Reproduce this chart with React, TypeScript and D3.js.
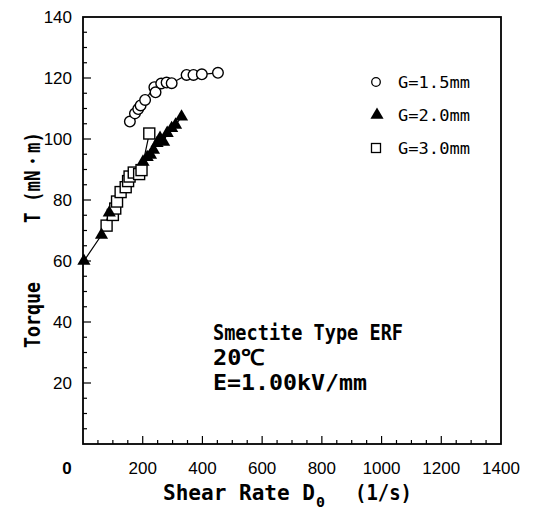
import React, { useEffect, useRef } from 'react';
import * as d3 from 'd3';

// G=1.5mm (open circles)
const gap15: number[][] = [
  [157, 105.7], [174, 108.4], [185, 109.8], [193, 111], [208, 112.8], [239, 117],
  [243, 115.3], [262, 118.2], [280, 118.5], [297, 118.3], [347, 121], [370, 121],
  [398, 121.2], [452, 121.7],
];
// G=2.0mm (filled triangles)
const gap20: number[][] = [
  [3, 60], [62, 68.5], [88, 75.8], [201, 92.5], [215, 94], [226, 94.8], [236, 96.4],
  [248, 98.6], [258, 100.3], [270, 99], [282, 101.9], [297, 103.5], [310, 104.6], [330, 107.3],
];
// G=3.0mm (open squares)
const gap30: number[][] = [
  [79, 71.6], [100, 75.1], [108, 77.2], [114, 79.5], [126, 82.6], [143, 84.2],
  [151, 86.2], [156, 87.7], [170, 89], [188, 88.5], [196, 89.8], [222, 101.8],
];

const xTicks = [200, 400, 600, 800, 1000, 1200, 1400];
const yTicks = [20, 40, 60, 80, 100, 120, 140];
const legendLabels = ['G=1.5mm', 'G=2.0mm', 'G=3.0mm'];
const noteLines = ['Smectite Type ERF', '20℃', 'E=1.00kV/mm'];

const W = 534;
const H = 510;
const margin = { left: 83, top: 17, right: 33, bottom: 66 };
const mono = '"DejaVu Sans Mono", monospace';
const sans = '"Liberation Sans Narrow", "Liberation Sans", Arial, sans-serif';

const App = () => {
  const ref = useRef<SVGSVGElement>(null);

  useEffect(() => {
    const svg = d3.select(ref.current);
    svg.selectAll('*').remove();

    const x = d3.scaleLinear().domain([0, 1400]).range([margin.left, W - margin.right]);
    const y = d3.scaleLinear().domain([0, 140]).range([H - margin.bottom, margin.top]);
    const x0 = x(0), x1 = x(1400), y0 = y(0), y1 = y(140);

    // frame
    svg.append('rect')
      .attr('x', x0).attr('y', y1)
      .attr('width', x1 - x0).attr('height', y0 - y1)
      .attr('fill', 'none').attr('stroke', '#000').attr('stroke-width', 1.8);

    // inward ticks
    const g = svg.append('g').attr('stroke', '#000').attr('stroke-width', 1.2);
    d3.range(50, 1400, 50).forEach((v) => {
      const len = v % 200 === 0 ? 8 : 4;
      g.append('line').attr('x1', x(v)).attr('x2', x(v)).attr('y1', y0).attr('y2', y0 - len);
    });
    d3.range(5, 140, 5).forEach((v) => {
      const len = v % 20 === 0 ? 8 : 4;
      g.append('line').attr('x1', x0).attr('x2', x0 + len).attr('y1', y(v)).attr('y2', y(v));
    });

    // tick labels
    svg.append('g').selectAll('text').data(xTicks).enter().append('text')
      .attr('x', (d) => x(d)).attr('y', y0 + 30)
      .attr('text-anchor', 'middle')
      .style('font-family', sans).style('font-size', '17px')
      .text((d) => d);
    svg.append('text')
      .attr('x', x0 - 16).attr('y', y0 + 30)
      .attr('text-anchor', 'middle')
      .style('font-family', sans).style('font-size', '17px').style('font-weight', 'bold')
      .text('0');
    svg.append('g').selectAll('text').data(yTicks).enter().append('text')
      .attr('x', x0 - 11).attr('y', (d) => y(d) + 6)
      .attr('text-anchor', 'end')
      .style('font-family', sans).style('font-size', '17px')
      .text((d) => d);

    // axis titles
    const title = (t: string, tx: number, ty: number, len: number, size = 21) =>
      svg.append('text')
        .attr('x', tx).attr('y', ty)
        .attr('textLength', len).attr('lengthAdjust', 'spacingAndGlyphs')
        .style('font-family', mono).style('font-size', `${size}px`).style('font-weight', 'bold')
        .text(t);
    title('Shear Rate D', 163, 500, 152);
    title('0', 316, 507, 9, 14);
    title('(1/s)', 355, 500, 57);

    const yl = svg.append('g').attr('transform', 'translate(40, 0) rotate(-90)');
    yl.append('text')
      .attr('x', -348).attr('y', 0)
      .attr('textLength', 66).attr('lengthAdjust', 'spacingAndGlyphs')
      .style('font-family', mono).style('font-size', '21px').style('font-weight', 'bold')
      .text('Torque');
    yl.append('text')
      .attr('x', -223).attr('y', 0)
      .attr('textLength', 91).attr('lengthAdjust', 'spacingAndGlyphs')
      .style('font-family', mono).style('font-size', '21px').style('font-weight', 'bold')
      .text('T (mN・m)');

    // connecting lines
    const line = d3.line<number[]>().x((d) => x(d[0])).y((d) => y(d[1]));
    [gap15, gap20, gap30].forEach((s) => {
      svg.append('path')
        .attr('d', line([...s].sort((a, b) => a[0] - b[0])))
        .attr('fill', 'none').attr('stroke', '#000').attr('stroke-width', 1.2);
    });

    const tri = d3.symbol().type(d3.symbolTriangle).size(75);

    // markers
    svg.append('g').selectAll('circle').data(gap15).enter().append('circle')
      .attr('cx', (d) => x(d[0])).attr('cy', (d) => y(d[1])).attr('r', 5.3)
      .attr('fill', '#fff').attr('stroke', '#000').attr('stroke-width', 1.4);
    svg.append('g').selectAll('rect').data(gap30).enter().append('rect')
      .attr('x', (d) => x(d[0]) - 5.5).attr('y', (d) => y(d[1]) - 5.5)
      .attr('width', 11).attr('height', 11)
      .attr('fill', '#fff').attr('stroke', '#000').attr('stroke-width', 1.4);
    svg.append('g').selectAll('path').data(gap20).enter().append('path')
      .attr('d', tri)
      .attr('transform', (d) => `translate(${x(d[0])}, ${y(d[1])})`)
      .attr('fill', '#000');

    // legend
    const lx = x1 - 125;
    const ly = 82;
    const lg = svg.append('g');
    lg.append('circle').attr('cx', lx).attr('cy', ly).attr('r', 4.3)
      .attr('fill', 'none').attr('stroke', '#000').attr('stroke-width', 1.3);
    lg.append('path').attr('d', tri).attr('transform', `translate(${lx + 1}, ${ly + 33})`).attr('fill', '#000');
    lg.append('rect').attr('x', lx - 4.5).attr('y', ly + 66 - 4.5).attr('width', 9).attr('height', 9)
      .attr('fill', 'none').attr('stroke', '#000').attr('stroke-width', 1.3);
    lg.selectAll('text').data(legendLabels).enter().append('text')
      .attr('x', lx + 22).attr('y', (_d, i) => ly + 6 + i * 33)
      .attr('textLength', 72).attr('lengthAdjust', 'spacingAndGlyphs')
      .style('font-family', mono).style('font-size', '16px')
      .text((d) => d);

    // annotation
    const noteLen = [190, 52, 154];
    svg.append('g').selectAll('text').data(noteLines).enter().append('text')
      .attr('x', 213).attr('y', (_d, i) => 340 + i * 25)
      .attr('textLength', (_d, i) => noteLen[i]).attr('lengthAdjust', 'spacingAndGlyphs')
      .style('font-family', mono).style('font-size', '22px').style('font-weight', 'bold')
      .text((d) => d);
  }, []);

  return (
    <svg
      ref={ref}
      width={W}
      height={H}
      style={{ position: 'absolute', left: 0, top: 0, background: '#fff' }}
    />
  );
};

export default App;
